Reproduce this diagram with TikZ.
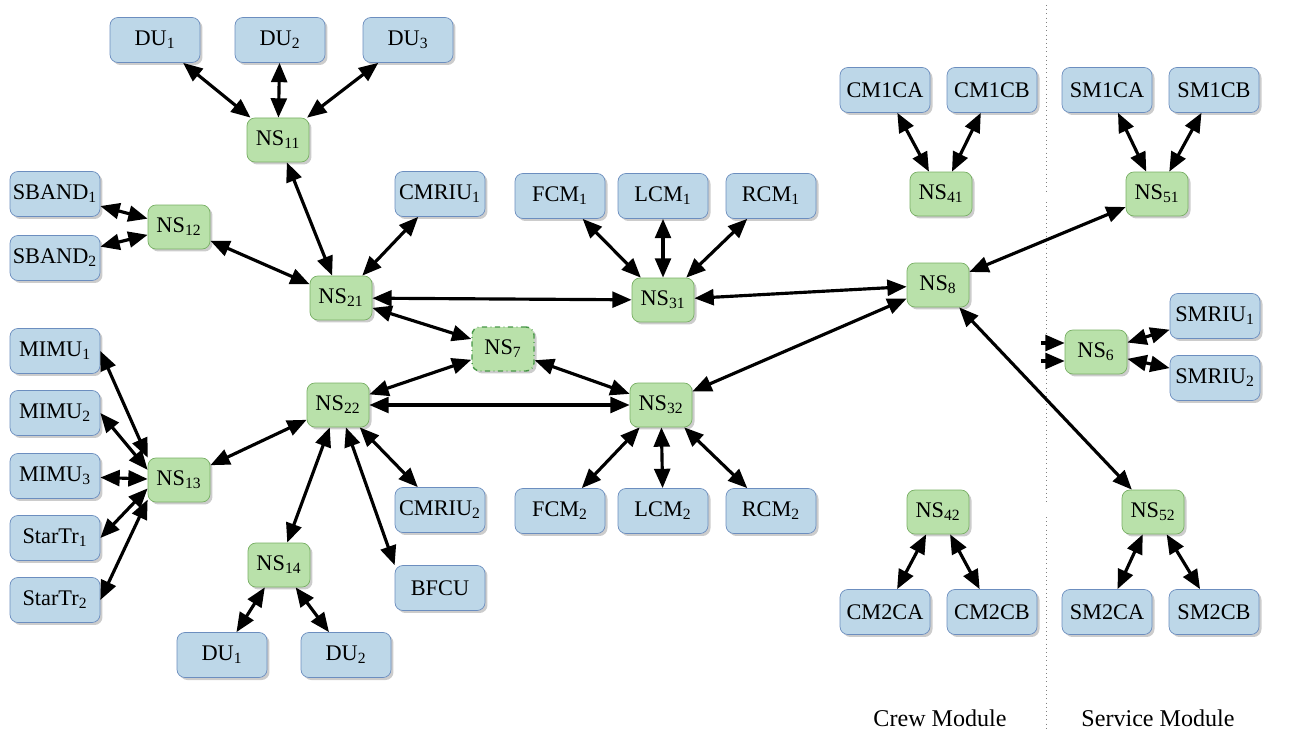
\documentclass[tikz,border=0pt]{standalone}
\usepackage{fontspec}
\setmainfont{Liberation Serif}
\usepackage{tikz}
\usetikzlibrary{arrows.meta,shadows}
\usepackage{xcolor}
\definecolor{devfill}{RGB}{189,215,232}
\definecolor{devline}{RGB}{108,142,191}
\definecolor{swfill}{RGB}{185,225,170}
\definecolor{swline}{RGB}{120,175,100}
\definecolor{swdash}{RGB}{70,150,70}

\begin{document}
\begin{tikzpicture}[x=0.02cm,y=-0.02cm,>={Triangle[length=11pt,width=9pt]},
  every node/.style={font=\fontsize{12.7}{14}\selectfont},
  dev/.style={draw=devline,fill=devfill,rounded corners=4.5pt,minimum width=1.8cm,minimum height=0.9cm,inner sep=0pt,
    drop shadow={shadow xshift=0.05cm,shadow yshift=-0.05cm,fill=black!40,opacity=0.5}},
  sw/.style={draw=swline,fill=swfill,rounded corners=4.5pt,minimum width=1.24cm,minimum height=0.88cm,inner sep=0pt,
    drop shadow={shadow xshift=0.05cm,shadow yshift=-0.05cm,fill=black!40,opacity=0.5}},
  link/.style={<->,line width=1.8pt}]
\useasboundingbox (0,0) rectangle (1290,749);
\draw[gray,dotted] (1046,5) -- (1046,192) (1046,202) -- (1046,505) (1046,517) -- (1046,732);
% devices
\node[dev] (du1) at (155,40) {DU\textsubscript{1}};
\node[dev] (du2) at (280,40) {DU\textsubscript{2}};
\node[dev] (du3) at (408,40) {DU\textsubscript{3}};
\node[dev] (sband1) at (55,194) {SBAND\textsubscript{1}};
\node[dev] (sband2) at (55,258) {SBAND\textsubscript{2}};
\node[dev] (cmriu1) at (440,194) {CMRIU\textsubscript{1}};
\node[dev] (fcm1) at (560,196) {FCM\textsubscript{1}};
\node[dev] (lcm1) at (663,196) {LCM\textsubscript{1}};
\node[dev] (rcm1) at (771,196) {RCM\textsubscript{1}};
\node[dev] (mimu1) at (55,351) {MIMU\textsubscript{1}};
\node[dev] (mimu2) at (55,413) {MIMU\textsubscript{2}};
\node[dev] (mimu3) at (55,476) {MIMU\textsubscript{3}};
\node[dev] (startr1) at (55,538) {StarTr\textsubscript{1}};
\node[dev] (startr2) at (55,600) {StarTr\textsubscript{2}};
\node[dev] (cmriu2) at (440,510) {CMRIU\textsubscript{2}};
\node[dev] (bfcu) at (440,588) {BFCU};
\node[dev] (du4) at (222,655) {DU\textsubscript{1}};
\node[dev] (du5) at (346,655) {DU\textsubscript{2}};
\node[dev] (fcm2) at (560,511) {FCM\textsubscript{2}};
\node[dev] (lcm2) at (663,511) {LCM\textsubscript{2}};
\node[dev] (rcm2) at (771,511) {RCM\textsubscript{2}};
\node[dev] (cm1ca) at (885,90) {CM1CA};
\node[dev] (cm1cb) at (992,90) {CM1CB};
\node[dev] (sm1ca) at (1107,90) {SM1CA};
\node[dev] (sm1cb) at (1214,90) {SM1CB};
\node[dev] (smriu1) at (1215,316) {SMRIU\textsubscript{1}};
\node[dev] (smriu2) at (1215,378) {SMRIU\textsubscript{2}};
\node[dev] (cm2ca) at (885,612) {CM2CA};
\node[dev] (cm2cb) at (992,612) {CM2CB};
\node[dev] (sm2ca) at (1107,612) {SM2CA};
\node[dev] (sm2cb) at (1214,612) {SM2CB};
% switches
\node[sw] (ns11) at (278,140) {NS\textsubscript{11}};
\node[sw] (ns12) at (179,227) {NS\textsubscript{12}};
\node[sw] (ns21) at (341,298) {NS\textsubscript{21}};
\node[sw] (ns31) at (663,300) {NS\textsubscript{31}};
\node[sw] (ns8) at (938,285) {NS\textsubscript{8}};
\node[sw,draw=swdash,dash dot,thick] (ns7) at (503,349) {NS\textsubscript{7}};
\node[sw] (ns22) at (338,405) {NS\textsubscript{22}};
\node[sw] (ns32) at (661,405) {NS\textsubscript{32}};
\node[sw] (ns13) at (179,480) {NS\textsubscript{13}};
\node[sw] (ns14) at (279,565) {NS\textsubscript{14}};
\node[sw] (ns41) at (941,194) {NS\textsubscript{41}};
\node[sw] (ns51) at (1157,194) {NS\textsubscript{51}};
\node[sw] (ns6) at (1096,352) {NS\textsubscript{6}};
\node[sw] (ns42) at (938,512) {NS\textsubscript{42}};
\node[sw] (ns52) at (1153,512) {NS\textsubscript{52}};
\node[font=\fontsize{13.7}{15}\selectfont] (crew) at (940,718) {Crew Module};
\node[font=\fontsize{13.7}{15}\selectfont] (service) at (1158,718) {Service Module};
% links
\draw[link] (du1) -- (ns11);
\draw[link] (du2) -- (ns11);
\draw[link] (du3) -- (ns11);
\draw[link] (sband1) -- (ns12);
\draw[link] (sband2) -- (ns12);
\draw[link] (ns12) -- (ns21);
\draw[link] (ns11) -- (ns21);
\draw[link] (cmriu1) -- (ns21);
\draw[link] (ns21) -- (ns31);
\draw[link] (ns21) -- (ns7);
\draw[link] (fcm1) -- (ns31);
\draw[link] (lcm1) -- (ns31);
\draw[link] (rcm1) -- (ns31);
\draw[link] (ns31) -- (ns8);
\draw[link] (ns8) -- (ns32);
\draw[link] (ns8) -- (ns51);
\draw[link] (ns8) -- (ns52);
\draw[link] (ns7) -- (ns22);
\draw[link] (ns7) -- (ns32);
\draw[link] (ns22) -- (ns32);
\draw[link] (ns13) -- (ns22);
\draw[link] (mimu1.east) -- (ns13.north west);
\draw[link] (mimu2.east) -- (ns13.162);
\draw[link] (mimu3) -- (ns13);
\draw[link] (startr1.east) -- (ns13.195);
\draw[link] (startr2.east) -- (ns13.212);
\draw[link] (ns22) -- (ns14);
\draw[link] (ns22) -- (cmriu2);
\draw[link] (ns22) -- (bfcu.north west);
\draw[link] (ns14) -- (du4);
\draw[link] (ns14) -- (du5);
\draw[link] (ns32) -- (fcm2);
\draw[link] (ns32) -- (lcm2);
\draw[link] (ns32) -- (rcm2);
\draw[link] (cm1ca) -- (ns41);
\draw[link] (cm1cb) -- (ns41);
\draw[link] (sm1ca) -- (ns51);
\draw[link] (sm1cb) -- (ns51);
\draw[link] (ns6) -- (smriu1);
\draw[link] (ns6) -- (smriu2);
\draw[link] (ns42) -- (cm2ca);
\draw[link] (ns42) -- (cm2cb);
\draw[link] (ns52) -- (sm2ca);
\draw[link] (ns52) -- (sm2cb);
\coordinate (in6a) at (1041,343);
\coordinate (in6b) at (1041,361);
\draw[->,line width=1.8pt] (in6a) -- (in6a -| ns6.west);
\draw[->,line width=1.8pt] (in6b) -- (in6b -| ns6.west);
\end{tikzpicture}
\end{document}
